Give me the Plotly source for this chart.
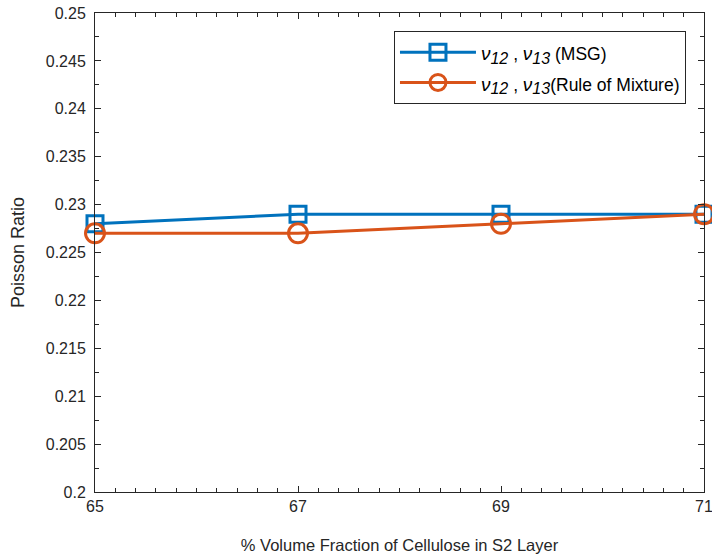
import plotly.graph_objects as go

volume_fraction = [65, 67, 69, 71]
msg_values = [0.228, 0.229, 0.229, 0.229]
rom_values = [0.227, 0.227, 0.228, 0.229]
x_ticks = [65, 67, 69, 71]
y_ticks = [0.2, 0.205, 0.21, 0.215, 0.22, 0.225, 0.23, 0.235, 0.24, 0.245, 0.25]
y_tick_labels = ["0.2", "0.205", "0.21", "0.215", "0.22", "0.225", "0.23", "0.235", "0.24", "0.245", "0.25"]

BLUE = "#0072BD"
ORANGE = "#D95319"

NU = '<span style="font-size:19px"><i>ν</i></span>'
def sub(s):
    return '<sub><span style="font-size:16px"><i>' + s + '</i></span></sub>'
def label(suffix):
    return '<span style="font-size:17.5px">' + NU + sub("12") + " , " + NU + sub("13") + suffix + '</span>'

fig = go.Figure()
fig.add_trace(go.Scatter(
    x=volume_fraction, y=msg_values, mode="lines+markers",
    name=label(" (MSG)"),
    line=dict(color=BLUE, width=3),
    marker=dict(symbol="square-open", size=16, color=BLUE, line=dict(width=3, color=BLUE)),
    cliponaxis=False,
))
fig.add_trace(go.Scatter(
    x=volume_fraction, y=rom_values, mode="lines+markers",
    name=label("(Rule of Mixture)"),
    line=dict(color=ORANGE, width=3),
    marker=dict(symbol="circle-open", size=19, color=ORANGE, line=dict(width=3, color=ORANGE)),
    cliponaxis=False,
))

font = dict(family="Liberation Sans, Arial, sans-serif", size=16, color="#262626")

fig.update_layout(
    width=712, height=559,
    margin=dict(l=95, r=8, t=13, b=67),
    paper_bgcolor="white", plot_bgcolor="white",
    font=font,
    showlegend=True,
    legend=dict(
        x=0.9704, y=0.9624, xanchor="right", yanchor="top",
        bgcolor="white", bordercolor="#262626", borderwidth=1,
        font=dict(family="Liberation Sans, Arial, sans-serif", size=21, color="#000000"),
        tracegroupgap=0, itemwidth=76,
    ),
    xaxis=dict(
        range=[65, 71], tickvals=x_ticks, ticktext=[str(v) for v in x_ticks],
        showgrid=False, zeroline=False, automargin=False, ticklabeloverflow="allow",
        showline=True, linecolor="#262626", linewidth=1, mirror="ticks",
        ticks="inside", ticklen=6, tickcolor="#262626",
        minor=dict(dtick=0.2, ticks="inside", ticklen=4, tickcolor="#262626", showgrid=False),
        title=dict(text="% Volume Fraction of Cellulose in S2 Layer", font=dict(size=16.5), standoff=25),
        tickfont=dict(size=16),
    ),
    yaxis=dict(
        range=[0.2, 0.25], tickvals=y_ticks, ticktext=y_tick_labels,
        showgrid=False, zeroline=False, automargin=False, ticklabeloverflow="allow",
        showline=True, linecolor="#262626", linewidth=1, mirror="ticks",
        ticks="inside", ticklen=6, tickcolor="#262626", ticklabelstandoff=5,
        minor=dict(dtick=0.0025, ticks="inside", ticklen=4, tickcolor="#262626", showgrid=False),
        title=dict(text="Poisson Ratio", font=dict(size=18), standoff=16),
        tickfont=dict(size=16),
    ),
)

fig.write_html("out.html", config={"displayModeBar": False},
               post_script="document.body.style.margin='0';")
